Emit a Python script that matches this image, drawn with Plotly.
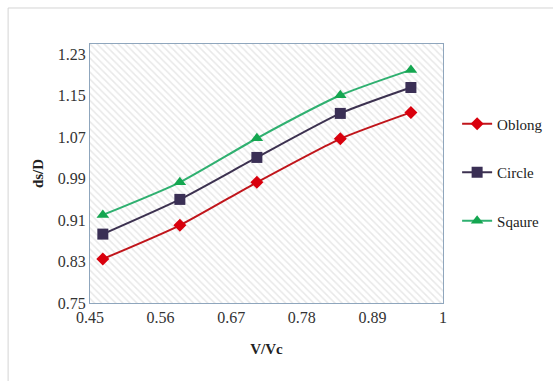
import plotly.graph_objects as go

x_vals = [0.47, 0.59, 0.71, 0.84, 0.95]
oblong = [0.835, 0.900, 0.983, 1.067, 1.118]
circle = [0.883, 0.950, 1.031, 1.116, 1.166]
square = [0.920, 0.983, 1.068, 1.151, 1.200]
x_ticks = [0.45, 0.56, 0.67, 0.78, 0.89, 1]
y_ticks = [0.75, 0.83, 0.91, 0.99, 1.07, 1.15, 1.23]
x_range = [0.45, 1.0]
y_range = [0.75, 1.25]

font = "Liberation Serif"
fig = go.Figure()

# hatched plot background
fig.add_trace(go.Scatter(
    x=[x_range[0], x_range[1], x_range[1], x_range[0], x_range[0]],
    y=[y_range[0], y_range[0], y_range[1], y_range[1], y_range[0]],
    mode="lines", line=dict(width=0), fill="toself", fillcolor="rgba(0,0,0,0)",
    fillpattern=dict(shape="\\", fgcolor="#d2d2d2", bgcolor="white", size=5, solidity=0.3),
    showlegend=False, hoverinfo="skip"))

series = [
    ("Oblong", oblong, "#c0151b", "#d9000d", "diamond", 10),
    ("Circle", circle, "#3c3150", "#3a2f55", "square", 11),
    ("Sqaure", square, "#2fb070", "#14a650", "triangle-up", 11),
]
for i, (name, ys, lc, mc, sym, sz) in enumerate(series):
    fig.add_trace(go.Scatter(
        x=x_vals, y=ys, name=name, mode="lines+markers",
        line=dict(color=lc, width=2, shape="spline", smoothing=0.6),
        marker=dict(symbol=sym, size=sz, color=mc),
        legendgroup=name))

fig.update_layout(
    width=553, height=381,
    margin=dict(l=90, r=110, t=44, b=78, autoexpand=False),
    paper_bgcolor="white", plot_bgcolor="white",
    font=dict(family=font, size=14, color="#333333"),
    legend=dict(x=1.04, y=0.755, yanchor="top", xanchor="left",
                font=dict(family=font, size=15, color="#222222"),
                tracegroupgap=26, bgcolor="rgba(0,0,0,0)"),
    shapes=[dict(type="rect", xref="paper", yref="paper", x0=-0.232, x1=1.35, y0=-0.35, y1=1.139,
                 line=dict(color="#d4d4d4", width=1), layer="below")],
)
fig.update_xaxes(range=x_range, tickvals=x_ticks, ticktext=[str(v) for v in x_ticks],
                 showgrid=True, gridcolor="#d9d9d9", gridwidth=1,
                 showline=True, linecolor="#8fa6bd", mirror=True, zeroline=False,
                 ticks="", tickfont=dict(family=font, size=16, color="#333333"),
                 title=dict(text="<b>V/Vc</b>", font=dict(family=font, size=15, color="#222222"), standoff=18))
fig.update_yaxes(range=y_range, tickvals=y_ticks, ticktext=[f"{v:.2f}" for v in y_ticks],
                 showgrid=True, gridcolor="#d9d9d9", gridwidth=1,
                 showline=True, linecolor="#8fa6bd", mirror=True, zeroline=False,
                 ticks="", tickfont=dict(family=font, size=16, color="#333333"),
                 title=dict(text="<b>ds/D</b>", font=dict(family=font, size=15, color="#222222"), standoff=10))

fig.write_html("out.html")
